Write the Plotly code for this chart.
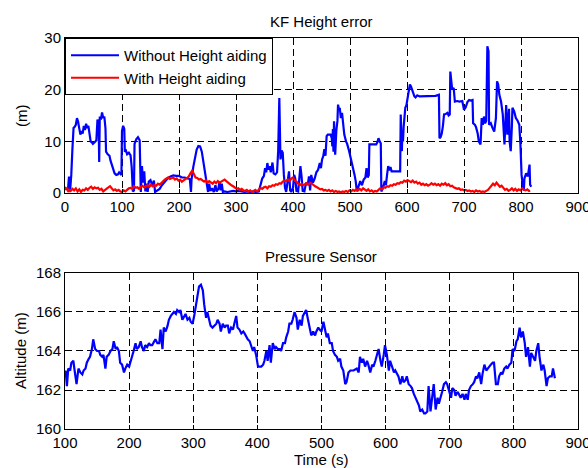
import plotly.graph_objects as go

# ---------------- data ----------------
t_without = [5,7,9,11,13,15,17,19,21,23,25,27,29,31,33,35,37,39,41,43,45,47,49,52,55,57,59,60,61,63,65,67,69,71,72,75,78,80,82,84,87,90,93,95,97,99,
             100,102,104,105,107,109,112,115,117,119,121,122,125,128,131,132,133,135,137,139,141,143,145,147,150,153,156,158,162,166,170,175,180,185,190,195,
             200,205,210,215,219,221,222,225,228,231,234,237,240,243,246,249,251,253,255,258,261,264,266,269,271,273,275,277,280,285,290,295,
             300,305,310,315,320,325,330,335,340,343,346,349,351,353,355,357,359,361,364,366,369,372,374,376,377,378,380,382,384,386,388,391,393,395,397,
             400,402,404,406,409,411,413,415,417,420,423,426,428,430,432,435,438,441,444,447,449,451,453,455,457,459,461,464,466,468,469,470,471,472,473,474,476,478,479,481,482,484,486,488,490,493,495,498,
             500,503,506,508,510,512,514,516,518,521,524,527,529,531,533,534,540,546,548,550,552,554,555,558,561,563,565,567,569,571,573,578,583,588,589,590,591,592,593,594,596,597,599,
             601,603,605,607,609,611,613,615,618,622,630,640,650,656,657,659,661,663,665,668,671,673,675,676,678,679,682,684,688,692,697,
             700,703,706,709,712,715,716,719,721,724,726,729,731,733,735,737,739,741,743,744,747,750,753,756,758,760,762,765,768,771,774,776,779,780,782,784,785,788,791,794,797,799,
             801,803,805,806,809,812,815,816,818]
h_without = [0.3,3.2,0.5,3.5,8.5,12.6,12.8,13.2,14.5,13.8,12.5,11.3,12.0,11.5,13.0,12.2,13.4,12.6,13.0,11.8,10.0,9.8,9.5,9.8,10.2,14.2,13.5,6.0,14.8,14.2,15.6,14.5,14.8,12.5,8.0,7.5,7.2,6.2,5.5,4.6,3.8,3.5,3.6,4.0,3.6,3.5,
             12.0,13.0,12.4,8.0,8.2,7.5,7.8,7.3,5.0,0.3,0.5,9.5,10.4,10.8,10.2,4.0,0.2,5.2,2.0,4.2,0.3,1.8,0.2,2.2,2.5,1.5,2.4,0.2,0.5,0.8,1.5,2.2,2.8,3.2,3.4,3.3,
             3.3,3.0,3.0,2.8,2.7,0.2,2.6,5.0,6.8,8.4,9.1,9.0,8.0,6.0,4.0,1.5,0.2,1.8,0.4,0.9,0.2,1.5,0.3,0.8,2.2,0.5,1.8,0.2,0.3,0.2,0.3,0.4,
             0.3,0.4,0.3,0.2,0.3,0.2,0.3,0.2,0.3,1.5,2.8,3.3,4.8,4.0,5.8,4.5,5.2,4.0,5.9,3.8,3.6,4.0,8.1,18.4,12.0,6.5,8.2,7.8,3.5,1.0,0.2,2.5,4.2,0.5,0.2,
             1.0,3.5,2.8,0.4,0.3,3.8,5.2,3.2,0.4,0.3,2.0,1.6,3.2,0.5,3.5,2.0,2.8,4.0,4.5,5.8,4.8,6.5,7.1,8.5,7.2,11.0,11.3,11.3,11.3,10.6,9.0,12.4,8.0,13.9,10.5,7.4,12.0,14.0,17.1,16.0,16.5,14.5,15.5,13.8,11.3,10.0,9.5,8.3,
             7.4,6.0,4.8,3.5,2.3,0.3,1.0,1.8,2.3,1.5,2.6,3.0,4.8,3.0,3.5,9.4,9.4,9.4,9.8,10.6,10.0,9.6,0.3,1.0,2.3,1.5,3.5,5.2,4.4,5.0,4.2,4.2,4.2,4.2,15.2,11.0,8.1,12.0,10.0,12.6,15.0,16.5,17.0,
             18.4,19.5,21.0,20.6,20.0,19.0,18.7,18.5,18.9,18.7,18.7,18.8,18.8,19.0,10.6,10.8,11.5,13.0,15.2,15.3,15.5,15.0,15.2,23.5,22.0,20.3,20.2,17.7,17.8,17.7,17.8,
             16.1,16.6,17.6,18.0,17.9,18.0,13.5,13.2,12.8,11.5,10.0,9.4,14.5,13.2,14.8,13.5,14.0,28.4,27.4,13.2,13.5,12.6,11.9,14.5,21.6,21.0,19.0,17.7,15.2,9.4,17.0,11.3,16.3,10.0,8.1,13.0,16.5,15.8,14.5,14.0,13.2,9.4,
             3.5,1.6,0.5,2.8,3.8,3.2,5.5,1.6,1.2]

t_with = [0,2,4,6,8,10,13,16,19,22,25,28,31,34,37,40,43,46,49,52,55,58,61,64,67,70,73,76,79,82,85,88,91,94,97,
          100,103,106,109,112,115,118,121,124,127,130,133,136,139,142,145,148,151,154,157,160,163,166,169,172,175,178,181,184,187,190,193,196,199,
          202,205,208,211,214,217,220,223,225,227,229,232,235,238,241,244,247,250,253,256,259,262,265,268,271,274,277,280,283,286,289,292,295,298,
          301,304,307,310,313,316,319,322,325,328,331,334,337,340,343,346,349,352,355,358,361,364,367,370,373,376,379,382,385,388,391,394,397,
          400,403,406,409,412,415,418,421,424,427,430,433,436,439,442,445,448,451,454,457,460,463,466,469,472,475,478,481,484,487,490,493,496,499,
          502,505,508,511,514,517,520,523,526,529,532,535,538,541,544,547,550,553,556,559,562,565,568,571,574,577,580,583,586,589,592,595,598,
          601,604,607,610,613,616,619,622,625,628,631,634,637,640,643,646,649,652,655,658,661,664,667,670,673,676,679,682,685,688,691,694,697,
          700,703,706,709,712,715,718,721,724,727,730,733,736,739,742,745,748,751,754,757,760,763,766,769,772,775,778,781,784,787,790,793,796,799,
          802,805,808,811,814,816]
h_with = [1.2,0.6,1.0,0.2,0.6,0.4,0.8,0.5,0.9,0.3,0.7,0.2,0.6,0.5,0.9,0.6,1.0,1.2,0.8,1.1,0.9,1.0,0.6,0.8,0.3,0.6,0.9,1.1,1.3,0.8,0.5,0.7,0.4,0.6,0.3,
          0.2,0.5,0.3,0.6,0.9,1.0,0.8,1.3,1.0,1.1,0.8,1.2,1.4,1.1,1.3,1.5,1.2,1.6,1.3,1.5,1.4,1.8,1.6,2.0,2.4,2.6,2.8,3.0,2.7,2.9,3.0,2.6,2.8,2.4,
          2.6,2.2,2.5,2.7,2.9,3.2,3.8,4.3,3.9,3.4,3.0,2.9,2.6,2.7,2.4,2.2,2.5,2.0,2.3,2.1,1.8,2.2,1.9,2.3,2.0,2.2,2.4,2.6,2.3,2.0,1.8,1.5,1.3,1.0,
          0.8,0.9,0.6,0.8,0.5,0.4,0.6,0.3,0.5,0.2,0.4,0.6,0.3,0.7,1.0,0.8,1.1,1.2,0.9,1.3,1.2,1.5,1.4,1.7,1.6,1.9,1.8,2.2,2.4,2.3,2.6,2.3,2.8,
          3.0,2.4,2.2,1.8,1.5,1.8,1.5,1.7,1.9,1.6,2.0,1.8,1.5,1.3,1.1,0.9,0.7,0.8,0.5,0.6,0.4,0.6,0.3,0.5,0.2,0.4,0.2,0.3,0.1,0.3,0.2,0.4,0.2,0.5,
          0.3,0.6,0.4,0.7,0.5,0.8,0.5,0.9,0.6,0.4,0.7,0.3,0.5,0.2,0.4,0.3,0.6,0.9,0.7,1.1,1.0,1.3,1.2,1.5,1.4,1.7,1.6,1.9,1.8,2.1,2.0,2.4,2.2,
          2.5,2.3,2.1,2.4,2.0,2.2,1.8,2.0,1.6,1.8,1.5,1.7,1.4,1.6,1.9,1.6,1.8,1.5,1.7,1.4,1.8,1.6,1.9,1.5,1.7,1.3,1.4,1.1,1.0,0.8,0.9,0.6,0.7,
          0.5,0.6,0.4,0.5,0.3,0.4,0.2,0.5,0.3,0.4,0.2,0.3,0.2,0.4,0.6,1.0,1.4,1.8,1.5,2.0,1.6,1.2,1.4,0.9,0.6,0.8,0.4,0.6,0.9,0.5,0.8,0.4,0.7,0.5,
          0.9,0.6,0.5,0.7,0.4,0.5]

t_pressure = [101,103,105,108,110,113,115,118,121,124,127,129,132,134,137,139,142,144,147,150,153,155,158,160,163,165,168,171,174,176,179,181,184,186,189,192,194,197,
              200,202,205,207,210,212,215,218,220,223,225,228,231,233,236,239,241,244,247,249,252,254,257,260,262,265,268,270,273,275,278,280,283,286,288,291,294,296,299,
              302,304,307,309,312,315,317,320,322,325,327,330,333,336,338,341,343,346,349,351,354,356,359,362,364,367,369,372,375,378,380,383,385,388,390,393,395,398,
              401,404,406,409,411,414,416,419,421,424,427,429,432,435,437,440,443,445,448,450,453,455,458,461,463,466,469,471,474,476,479,482,484,487,490,492,495,497,
              500,503,505,508,510,513,516,518,521,524,526,529,531,534,537,539,542,545,550,555,558,560,563,565,568,571,573,576,579,581,584,586,589,592,594,597,599,
              602,605,607,610,613,615,618,620,623,626,628,631,633,636,639,641,644,647,649,652,654,657,660,662,665,667,670,672,675,678,681,683,686,688,691,694,696,699,
              702,704,707,709,712,714,717,720,723,725,728,730,733,736,738,741,743,746,749,751,754,757,759,762,764,767,769,772,775,777,780,782,785,788,790,793,796,798,
              801,804,806,809,811,814,817,819,822,825,827,830,833,835,838,840,843,846,848,851,853,856,859,861,864]
alt_pressure = [163.0,162.2,163.1,163.0,163.4,163.5,163.0,162.3,163.1,162.9,162.8,163.0,163.1,163.4,163.6,163.7,164.1,164.6,164.1,164.0,164.0,163.8,163.7,163.8,163.1,163.7,163.8,164.0,164.1,164.5,164.1,164.2,164.0,163.4,163.3,162.9,163.1,163.3,
                163.2,163.4,163.8,164.0,164.4,164.1,164.2,164.5,164.2,164.0,164.3,164.2,164.4,164.3,164.3,164.5,164.6,164.4,164.4,165.1,164.1,165.2,165.0,165.3,165.6,165.8,165.9,166.0,165.9,166.1,166.0,166.1,165.6,165.8,165.9,165.6,165.7,165.5,165.4,
                165.9,166.3,166.8,167.3,167.4,167.1,166.4,165.7,166.0,165.5,165.3,165.2,165.3,165.4,165.6,165.4,165.0,165.4,165.2,165.3,165.3,164.9,165.2,165.1,165.4,165.8,165.2,165.1,164.9,165.0,164.9,164.7,164.6,164.5,164.3,164.0,164.2,163.8,
                163.2,163.2,163.2,163.3,163.5,164.0,163.5,164.3,163.4,164.4,164.1,164.2,164.1,164.1,164.0,164.4,164.4,164.7,165.0,165.4,165.4,165.6,166.0,165.7,165.1,165.6,165.3,165.8,166.0,166.1,165.6,165.1,164.8,165.0,164.8,165.0,165.2,165.1,
                165.0,165.5,165.1,164.7,164.9,164.4,164.4,164.0,163.8,163.7,163.5,163.6,163.2,163.0,162.3,162.4,162.9,163.0,163.0,163.1,162.9,163.7,163.4,163.6,163.2,163.5,163.3,162.9,163.3,163.2,163.5,163.7,164.1,163.5,163.2,163.8,164.3,
                163.8,163.0,163.5,163.2,162.9,163.0,162.8,162.7,162.3,162.7,162.4,162.5,162.7,162.3,162.2,162.1,161.8,161.6,161.4,161.2,160.9,161.0,160.8,160.8,160.9,162.2,160.9,161.6,162.3,161.0,161.6,161.3,161.6,161.9,162.3,162.4,162.3,162.0,
                161.6,162.1,162.0,161.7,161.9,161.8,161.6,161.8,161.5,161.8,161.5,162.0,162.2,162.3,162.4,162.7,162.6,162.9,162.3,162.8,163.3,163.0,163.1,163.2,163.3,163.4,163.4,162.3,162.3,162.7,162.9,162.8,163.1,163.2,163.1,163.3,163.4,164.1,
                164.0,164.5,164.6,165.2,164.7,165.0,164.4,163.7,164.2,163.2,163.9,163.7,163.5,164.0,164.4,163.7,163.0,163.3,163.0,162.2,162.6,162.7,162.7,163.1,162.6]

top_ticks_x = [0, 100, 200, 300, 400, 500, 600, 700, 800, 900]
top_ticks_y = [0, 10, 20, 30]
bot_ticks_x = [100, 200, 300, 400, 500, 600, 700, 800, 900]
bot_ticks_y = [160, 162, 164, 166, 168]

title_top = "KF Height error"
title_bottom = "Pressure Sensor"
label_top_y = "(m)"
label_bottom_y = "Altitude (m)"
label_x = "Time (s)"
name_without = "Without Height aiding"
name_with = "With Height aiding"

# ---------------- figure ----------------
FONT = "Liberation Sans, Arial, Helvetica, sans-serif"
FS = 15
fig = go.Figure()
fig.add_trace(go.Scatter(x=t_without, y=h_without, mode="lines", name=name_without,
                         line=dict(color="#0000FF", width=2.2), xaxis="x", yaxis="y"))
fig.add_trace(go.Scatter(x=t_with, y=h_with, mode="lines", name=name_with,
                         line=dict(color="#FF0000", width=2.2), xaxis="x", yaxis="y"))
fig.add_trace(go.Scatter(x=t_pressure, y=alt_pressure, mode="lines", showlegend=False,
                         line=dict(color="#0000FF", width=2.2), xaxis="x2", yaxis="y2"))

axis_common = dict(showline=True, linecolor="black", linewidth=1, mirror="ticks",
                   ticks="inside", ticklen=4, tickcolor="black",
                   showgrid=True, gridcolor="black", gridwidth=1, griddash="7px,4px",
                   zeroline=False, ticklabeloverflow="allow", automargin=False,
                   tickfont=dict(family=FONT, size=FS, color="black"))

fig.update_layout(
    width=588, height=468,
    margin=dict(l=65, r=10, t=38, b=39, autoexpand=False),
    paper_bgcolor="white", plot_bgcolor="white",
    font=dict(family=FONT, size=FS, color="black"),
    xaxis=dict(domain=[0, 1], anchor="y", range=[0, 900], tickvals=top_ticks_x, **axis_common),
    yaxis=dict(domain=[0.6036, 1], anchor="x", range=[0, 30], tickvals=top_ticks_y, **axis_common),
    xaxis2=dict(domain=[0, 1], anchor="y2", range=[100, 900], tickvals=bot_ticks_x, **axis_common),
    yaxis2=dict(domain=[0, 0.399], anchor="x2", range=[160, 168], tickvals=bot_ticks_y, **axis_common),
    legend=dict(x=0, y=1, xanchor="left", yanchor="top", bgcolor="white",
                bordercolor="black", borderwidth=1,
                font=dict(family=FONT, size=FS, color="black"),
                tracegroupgap=0, itemwidth=48),
    showlegend=True,
)

def px_x(p):
    return (p - 65) / 513.0

def px_y(p):
    return (429 - p) / 391.0

ann = [
    (title_top, 321, 21, 0),
    (title_bottom, 321, 256, 0),
    (label_x, 321, 460, 0),
    (label_top_y, 21, 116, -90),
    (label_bottom_y, 20, 351, -90),
]
for text, x, y, ang in ann:
    fig.add_annotation(text=text, x=px_x(x), y=px_y(y), xref="paper", yref="paper",
                       showarrow=False, textangle=ang, xanchor="center", yanchor="middle",
                       font=dict(family=FONT, size=FS, color="black"))

fig.write_html("out.html", config={"displayModeBar": False},
               post_script="document.body.style.margin='0';document.body.style.padding='0';")
